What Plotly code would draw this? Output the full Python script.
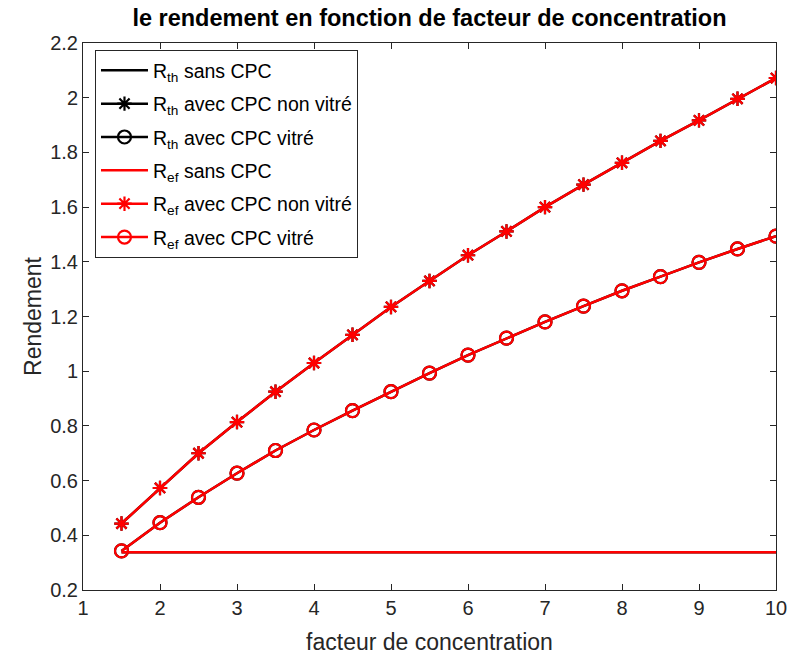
import plotly.graph_objects as go

facteur = [1.5, 2, 2.5, 3, 3.5, 4, 4.5, 5, 5.5, 6, 6.5, 7, 7.5, 8, 8.5, 9, 9.5, 10]
sans_cpc = [0.338] * len(facteur)
non_vitre = [0.443, 0.573, 0.700, 0.814, 0.925, 1.030, 1.133, 1.235, 1.330, 1.424, 1.511, 1.600,
             1.682, 1.762, 1.842, 1.917, 1.996, 2.072]
vitre = [0.343, 0.446, 0.539, 0.627, 0.710, 0.785, 0.856, 0.925, 0.993, 1.059, 1.121, 1.180,
         1.238, 1.294, 1.346, 1.398, 1.447, 1.494]

names = ["R<sub>th</sub> sans CPC", "R<sub>th</sub> avec CPC non vitré", "R<sub>th</sub> avec CPC vitré",
         "R<sub>ef</sub> sans CPC", "R<sub>ef</sub> avec CPC non vitré", "R<sub>ef</sub> avec CPC vitré"]
yticks = [0.2, 0.4, 0.6, 0.8, 1.0, 1.2, 1.4, 1.6, 1.8, 2.0, 2.2]
yticktext = ["0.2", "0.4", "0.6", "0.8", "1", "1.2", "1.4", "1.6", "1.8", "2", "2.2"]
xticks = [1, 2, 3, 4, 5, 6, 7, 8, 9, 10]

fig = go.Figure()
series = [sans_cpc, non_vitre, vitre]
symbols = [None, "asterisk-open", "circle-open"]
k = 0
for color, offs in [("black", 0), ("#FF0000", 3)]:
    for i, (ys, sym) in enumerate(zip(series, symbols)):
        mode = "lines" if sym is None else "lines+markers"
        fig.add_trace(go.Scatter(
            x=facteur, y=ys, name=names[offs + i], mode=mode, legendgroup=f"g{k}",
            line=dict(color=color, width=2.5),
            marker=dict(symbol=sym or "circle", size=12 if sym == "asterisk-open" else 13,
                        color=color, line=dict(color=color, width=2.2)),
        ))
        k += 1

axis_common = dict(showline=True, linecolor="#262626", linewidth=1, mirror="ticks",
                   ticks="inside", ticklen=6, tickcolor="#262626", showgrid=False, zeroline=False,
                   automargin=False, ticklabeloverflow="allow",
                   tickfont=dict(family="Liberation Sans, Arial", size=20, color="#262626"))
fig.update_layout(
    width=787, height=656,
    margin=dict(l=83, r=11, t=43, b=66),
    paper_bgcolor="white", plot_bgcolor="white",
    font=dict(family="Liberation Sans, Arial", color="#262626"),
    title=dict(text="<b>le rendement en fonction de facteur de concentration</b>",
               x=0.5457, xanchor="center", y=0.973, yanchor="middle",
               font=dict(size=23.5, color="black")),
    xaxis=dict(range=[1, 10], tickvals=xticks,
               title=dict(text="facteur de concentration", font=dict(size=23, color="#262626")),
               **axis_common),
    yaxis=dict(range=[0.2, 2.2], tickvals=yticks, ticktext=yticktext,
               title=dict(text="Rendement", font=dict(size=23, color="#262626"), standoff=2),
               **axis_common),
    legend=dict(x=0.0173, y=0.987, xanchor="left", yanchor="top",
                bgcolor="white", bordercolor="#262626", borderwidth=1,
                font=dict(size=19.5, color="black"), itemwidth=47, tracegroupgap=5),
    showlegend=True,
)
fig.write_html("out.html", config={"displayModeBar": False},
               post_script="document.body.style.margin='0px';")
